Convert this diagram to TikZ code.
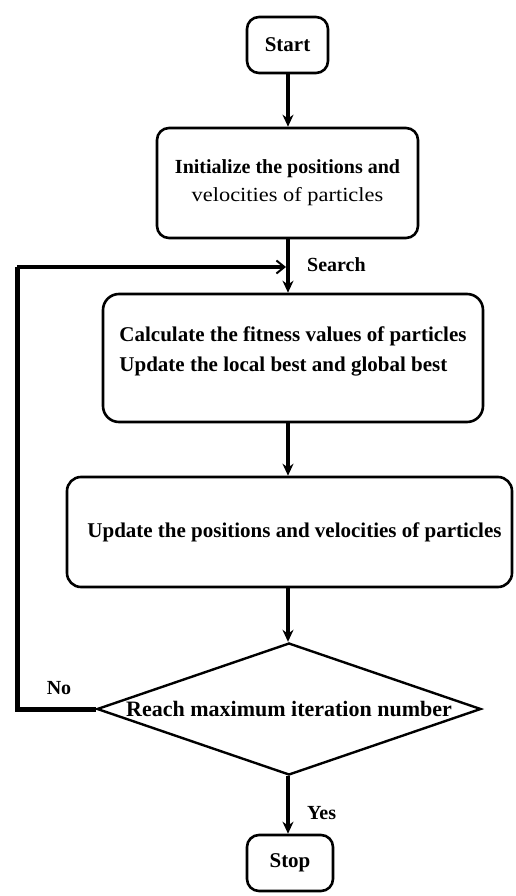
\documentclass[tikz,border=0pt]{standalone}
\usepackage{fontspec}
\usepackage{graphicx}
\setmainfont{Liberation Serif}
\usetikzlibrary{shapes.geometric,arrows.meta}
\begin{document}
\begin{tikzpicture}[x=1pt,y=-1pt,
  box/.style={draw,line width=2.6pt,rounded corners=12pt,align=center,inner sep=0pt},
  conn/.style={line width=3.4pt,-{Stealth[length=12pt,width=11pt]}},
  lab/.style={font=\fontsize{20}{24}\selectfont\bfseries,inner sep=0pt},
  txt/.style={font=\fontsize{21}{25}\selectfont\bfseries}]
\useasboundingbox (0,0) rectangle (515,896);
\node[box,minimum width=81pt,minimum height=56pt,txt] (start) at (287.5,45) {Start};
\node[box,minimum width=261pt,minimum height=110pt,font=\fontsize{20}{28}\selectfont] (init) at (287.5,183)
  {{\bfseries Initialize the positions and}\\ \scalebox{1.12}[1]{velocities of particles}};
\node[box,minimum width=380pt,minimum height=128pt,rounded corners=16pt,font=\fontsize{21}{30}\selectfont\bfseries] (calc) at (293,358)
  {\raisebox{8pt}[\height][\depth]{\begin{tabular}{@{}l@{}}Calculate the fitness values of particles\\
   Update the local best and global best\end{tabular}}};
\node[box,minimum width=445pt,minimum height=110pt,rounded corners=14pt,txt] (upd) at (289.5,532)
  {\hspace*{10pt}Update the positions and velocities of particles};
\node[diamond,draw,line width=2.4pt,shape aspect=2.9,inner sep=0pt,minimum width=384pt,minimum height=132pt,
  font=\fontsize{22}{26}\selectfont\bfseries] (dia) at (289,709) {Reach maximum iteration number};
\node[box,minimum width=86pt,minimum height=56pt,txt] (stop) at (290,863) {Stop};
\coordinate (j) at (288,267);
\coordinate (c1) at (17,709);
\coordinate (c2) at (17,267);
\draw[conn] (start.south -| j) -- (j |- init.north);
\draw[line width=3.4pt] (init.south -| j) -- (j);
\draw[conn] (j) -- (j |- calc.north);
\draw[line width=5pt] (dia.west) -- (c1) -- (c2);
\draw[line width=3.4pt,-{Straight Barb[length=8pt,width=13pt,line width=2pt]}] (c2) -- ([xshift=-2pt]j);
\draw[conn] (calc.south -| j) -- (j |- upd.north);
\draw[conn] (upd.south -| j) -- (j |- dia.north);
\draw[conn] (j |- dia.south) -- (j |- stop.north);
\node[lab,anchor=west] (search) at (307,265) {Search};
\node[lab] (no) at (59,688) {No};
\node[lab,anchor=west] (yes) at (307,813) {Yes};
\end{tikzpicture}
\end{document}
